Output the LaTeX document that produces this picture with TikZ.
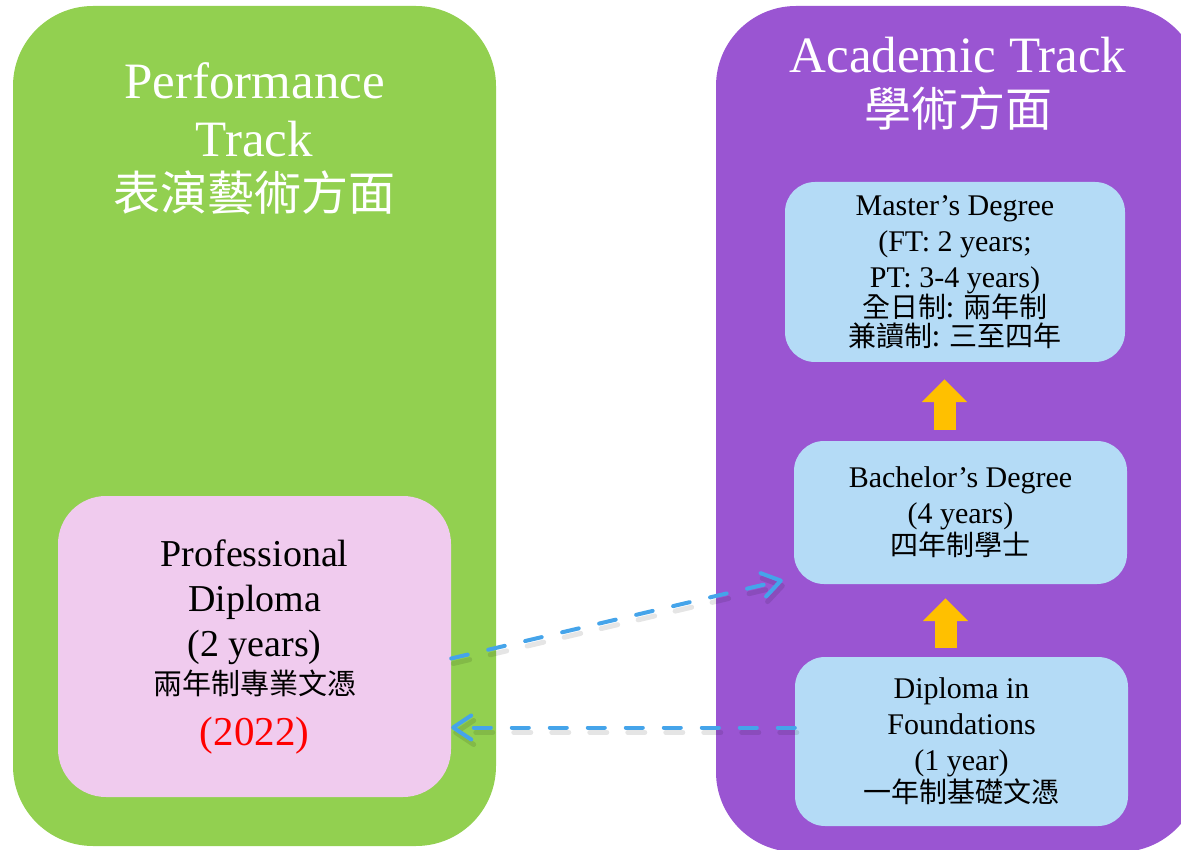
\documentclass[tikz,border=0pt]{standalone}
\usepackage{fontspec}
\setmainfont{Liberation Serif}
\newfontfamily\cjk{Noto Sans CJK TC}
\usetikzlibrary{arrows.meta}

\definecolor{trackgreen}{RGB}{146,208,80}
\definecolor{trackpurple}{RGB}{154,85,210}
\definecolor{boxpink}{RGB}{240,203,238}
\definecolor{boxblue}{RGB}{180,219,246}
\definecolor{stepyellow}{RGB}{255,192,0}
\definecolor{linkblue}{RGB}{69,164,234}

\begin{document}
\begin{tikzpicture}[x=1pt, y=-1pt,
	track/.style={rounded corners=80pt, inner sep=0pt},
	title/.style={text=white, align=center, inner sep=0pt, anchor=north, font=\fontsize{51}{58}\selectfont},
	degree/.style={fill=boxblue, rounded corners=30pt, align=center, font=\fontsize{30}{36}\selectfont},
	upstep/.style={draw=stepyellow, line width=22pt, -{Triangle[width=44pt, length=23pt]}},
	link/.style={draw=linkblue, line width=4pt, line cap=round, dash pattern=on 17pt off 21pt,
		-{Straight Barb[length=18pt, width=24pt, round]},
		preaction={draw=black, opacity=.1, line width=5pt, line cap=round, dash pattern=on 17pt off 21pt,
			-{Straight Barb[length=18pt, width=24pt, round]}, transform canvas={shift={(2pt,-5pt)}}}}]
	\useasboundingbox (0,0) rectangle (1181,850);
	\clip (0,0) rectangle (1181,850);

	% the two tracks
	\node[track, fill=trackgreen, minimum width=483pt, minimum height=840pt] (perf) at (254.5,426) {};
	\node[track, fill=trackpurple, minimum width=484pt, minimum height=846pt] (acad) at (958,429) {};

	\node[title] (perft) at (254.5,62) {Performance\\Track\\[-4pt]{\cjk\fontsize{47}{58}\selectfont 表演藝術方面}};
	\node[title] (acadt) at (958,37) {Academic Track\\[-4pt]{\cjk\fontsize{47}{58}\selectfont 學術方面}};

	% the programmes
	\node[fill=boxpink, rounded corners=48pt, align=center, minimum width=393pt, minimum height=301pt,
		font=\fontsize{38}{45}\selectfont] (pro) at (254.5,646.5)
		{Professional\\Diploma\\(2 years)\\[-7pt]{\cjk\fontsize{29}{45}\selectfont 兩年制專業文憑}\\[6pt]{\color{red}\fontsize{41}{45}\selectfont (2022)}};
	\node[degree, minimum width=340pt, minimum height=180pt] (mast) at (955,272)
		{Master's Degree\\(FT: 2 years;\\PT: 3-4 years)\\[-6pt]{\cjk\fontsize{28}{36}\selectfont 全日制: 兩年制}\\[-7pt]{\cjk\fontsize{28}{36}\selectfont 兼讀制: 三至四年}};
	\node[degree, minimum width=333pt, minimum height=143pt] (bach) at (960.5,512.5)
		{Bachelor's Degree\\(4 years)\\[-4pt]{\cjk\fontsize{28}{36}\selectfont 四年制學士}};
	\node[degree, minimum width=333pt, minimum height=169pt] (found) at (961.5,741.5)
		{Diploma in\\Foundations\\(1 year)\\[-4pt]{\cjk\fontsize{28}{36}\selectfont 一年制基礎文憑}};

	% progression
	\draw[upstep, shorten <=9pt, shorten >=14pt] ([xshift=-16pt]found.north) -- ([xshift=-16pt]found.north |- bach.south);
	\draw[upstep, shorten <=11pt, shorten >=17pt] ([xshift=-16pt]bach.north) -- ([xshift=-16pt]bach.north |- mast.south);

	% transfers
	\coordinate (ffrom) at ([yshift=14pt]found.west);
	\draw[link] ([yshift=-12pt]pro.east) -- ([xshift=-11pt, yshift=4pt]bach.south west);
	\draw[link] (ffrom) -- (ffrom -| pro.east);
\end{tikzpicture}
\end{document}
